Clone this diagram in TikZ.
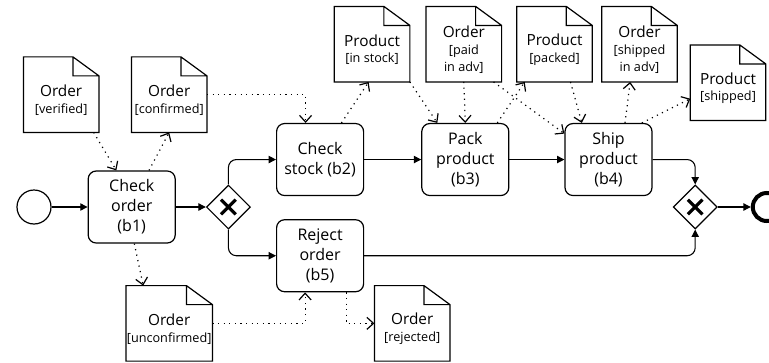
\documentclass[tikz,border=0pt]{standalone}
\usepackage{fontspec}
\setmainfont{Open Sans}
\usepackage{tikz}
\usetikzlibrary{
	arrows.meta,
	positioning,
	shapes.geometric
}
\newcommand{\dtop}{\rule{0pt}{17pt}}
\newcommand{\dsub}[1]{{\fontsize{9.5}{11}\selectfont #1}}

\begin{document}
\begin{tikzpicture}[
			font=\fontsize{12}{15}\selectfont,
			task/.style={draw, rounded corners=6pt, line width=0.9pt, minimum width=65.25pt, minimum height=54pt, align=center},
			gw/.style={draw, diamond, line width=0.9pt, minimum size=33pt, inner sep=0pt,
				path picture={\draw[line width=2.4pt]
					([shift={(-5.5pt,-5.5pt)}]path picture bounding box.center) -- ([shift={(5.5pt,5.5pt)}]path picture bounding box.center)
					([shift={(-5.5pt,5.5pt)}]path picture bounding box.center) -- ([shift={(5.5pt,-5.5pt)}]path picture bounding box.center);}},
			doc/.style={minimum width=56.25pt, minimum height=56.25pt, inner xsep=0.5pt, align=center, font=\fontsize{11.5}{12.5}\selectfont},
			flow/.style={-{Triangle[length=5.5pt, width=5.5pt]}, line width=0.8pt},
			assoc/.style={-{Straight Barb[length=5pt, width=9pt]}, line width=0.9pt, dash pattern=on 0.9pt off 3.3pt}
		]

		\useasboundingbox (-25.5pt,155.25pt) rectangle (551.25pt,-116.25pt);

		% process
		\node[draw, circle, line width=0.9pt, minimum size=25.5pt, inner sep=0pt] (start) at (0,0) {};
		\node[task, right=27pt of start] (b1) {Check\\ order\\ (b1)};
		\node[gw, right=22.5pt of b1] (gw1) {};
		\node[task, right=18.75pt of gw1, yshift=35.6pt] (b2) {Check\\ stock (b2)};
		\node[task, right=42.75pt of b2] (b3) {Pack\\ product\\ (b3)};
		\node[task, right=41.25pt of b3] (b4) {Ship\\ product\\ (b4)};
		\node[task, below=17.25pt of b2] (b5) {Reject\\ order\\ (b5)};
		\node[gw, right=15pt of b4, yshift=-35.6pt] (gw2) {};
		\node[draw, circle, line width=3pt, minimum size=21pt, inner sep=0pt, right=24.75pt of gw2] (end) {};

		\draw[flow] (start) -- (b1);
		\draw[flow] (b1) -- (gw1);
		\draw[flow, rounded corners=6pt] (gw1) |- (b2);
		\draw[flow, rounded corners=6pt] (gw1) |- (b5);
		\draw[flow] (b2) -- (b3);
		\draw[flow] (b3) -- (b4);
		\draw[flow, rounded corners=6pt] (b4) -| (gw2);
		\draw[flow, rounded corners=6pt] (b5) -| (gw2);
		\draw[flow] (gw2) -- (end);

		% data objects
		\node[doc, above=28.5pt of b1, xshift=-52.9pt] (dverif) {\dtop Order\\ \dsub{[verified]}};
		\node[doc, above=28.5pt of b1, xshift=28.1pt] (dconf) {\dtop Order\\ \dsub{[confirmed]}};
		\node[doc, above=30.75pt of b2, xshift=39pt] (dinstock) {\dtop Product\\ \dsub{[in stock]}};
		\node[doc, above=30.75pt of b3, xshift=-1.1pt] (dpaid) {\dtop Order\\ \dsub{[paid}\\ \dsub{in adv]}};
		\node[doc, above=30.75pt of b4, xshift=-40.5pt] (dpacked) {\dtop Product\\ \dsub{[packed]}};
		\node[doc, above=30.75pt of b4, xshift=23.25pt] (dshipadv) {\dtop Order\\ \dsub{[shipped}\\ \dsub{in adv]}};
		\node[doc, right=9.75pt of dshipadv, yshift=-28.9pt] (dshipped) {\dtop Product\\ \dsub{[shipped]}};
		\node[doc, below=31.5pt of b1, xshift=28.1pt] (dunconf) {\dtop Order\\ \dsub{[unconfirmed]}};
		\node[doc, right=121.5pt of dunconf] (drej) {\dtop Order\\ \dsub{[rejected]}};

		\foreach \d in {dverif, dconf, dinstock, dpaid, dpacked, dshipadv, dshipped, dunconf, drej}
			\draw[line width=0.9pt] (\d.north west) -- ([xshift=-19.5pt]\d.north east) -- ([yshift=-14.25pt]\d.north east)
				-- (\d.south east) -- (\d.south west) -- cycle
				([xshift=-19.5pt]\d.north east) |- ([yshift=-14.25pt]\d.north east);

		\draw[assoc] ([xshift=-4pt]dverif.south east) -- ([xshift=-11.5pt]b1.north);
		\draw[assoc] ([xshift=13pt]b1.north) -- (dconf.south);
		\draw[assoc] (dconf.east) -| ([xshift=-10.9pt]b2.north);
		\draw[assoc] ([xshift=16pt]b2.north) -- ([xshift=-2.6pt]dinstock.south);
		\draw[assoc] (dinstock.south east) -- ([xshift=-21pt]b3.north);
		\draw[assoc] (dpaid.south) -- (b3.north);
		\draw[assoc] ([xshift=24pt]b3.north) -- ([xshift=6pt]dpacked.south west);
		\draw[assoc] ([xshift=-6pt]dpaid.south east) -- ([yshift=-8pt]b4.north west);
		\draw[assoc] ([xshift=12pt]dpacked.south) -- ([xshift=-20pt]b4.north);
		\draw[assoc] ([xshift=12.4pt]b4.north) -- ([xshift=-7pt]dshipadv.south);
		\draw[assoc] ([xshift=25pt]b4.north) -- ([yshift=-12pt]dshipped.west);
		\draw[assoc] ([xshift=2pt]b1.south) -- ([xshift=-19.5pt]dunconf.north);
		\draw[assoc] (dunconf.east) -| ([xshift=-11.25pt]b5.south);
		\draw[assoc] ([xshift=19.5pt]b5.south) |- (drej.west);
	\end{tikzpicture}
\end{document}
